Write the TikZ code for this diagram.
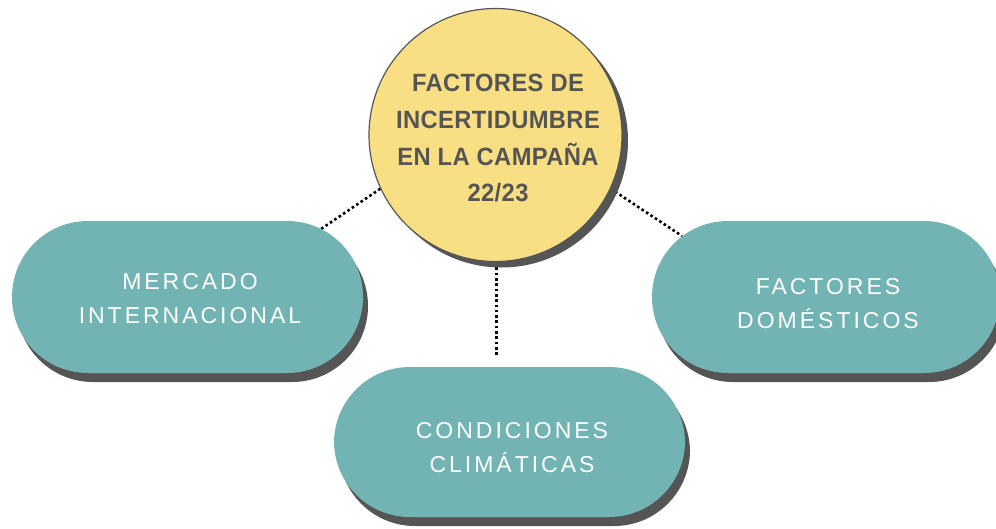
\documentclass[tikz,border=0pt]{standalone}
\usepackage{fontspec}
\setmainfont{Liberation Sans}
\newfontfamily\pillfont[LetterSpace=13]{Liberation Sans}
\newfontfamily\hubfont[LetterSpace=1.5,FakeStretch=0.95]{Liberation Sans}
\usetikzlibrary{shadows,backgrounds}
\definecolor{tealfill}{HTML}{72B4B3}
\definecolor{yellowfill}{HTML}{F9DF84}
\definecolor{shgray}{HTML}{555555}
\tikzset{
  pill/.style={rectangle, rounded corners=75.9pt, fill=tealfill, draw=none,
    minimum height=152pt, inner sep=0pt,
    drop shadow={shadow xshift=5pt, shadow yshift=-9pt, opacity=1, fill=shgray}},
  hub/.style={circle, fill=yellowfill, draw=shgray, line width=1.2pt,
    minimum size=253pt, inner sep=0pt,
    drop shadow={shadow xshift=6pt, shadow yshift=-6pt, opacity=1, fill=shgray}},
  hubtext/.style={align=center, text=shgray, inner sep=0pt,
    font=\hubfont\bfseries\fontsize{25}{36.7}\selectfont},
  pilltext/.style={align=center, text=white, inner sep=0pt,
    font=\pillfont\fontsize{23}{34}\selectfont},
  dotline/.style={draw=black, line width=2.6pt, dash pattern=on 2.6pt off 2.7pt}
}
\begin{document}
\begin{tikzpicture}[x=1pt,y=-1pt]
\useasboundingbox (0,0) rectangle (996,528);
% nodes
\node[hub] (hub) at (495.5,135) {};
\node[pill, minimum width=351pt] (left) at (187.5,297) {};
\node[pill, minimum width=348pt] (right) at (826,297) {};
\node[pill, minimum width=351pt, minimum height=150pt] (bottom) at (509.5,442) {};
% texts
\node[hubtext] (hubt) at (498,138.3) {FACTORES DE\\INCERTIDUMBRE\\EN LA CAMPAÑA\\22/23};
\node[pilltext] (leftt) at (190,298.3) {MERCADO\\INTERNACIONAL};
\node[pilltext] (rightt) at (828,303.5) {FACTORES\\DOMÉSTICOS};
\node[pilltext] (bottomt) at (512,448) {CONDICIONES\\CLIMÁTICAS};
% connector ends
\coordinate (lend) at (321,229);
\coordinate (rend) at (682,236);
\coordinate (bend) at (496.5,357);
\begin{scope}[on background layer]
  \draw[dotline] (hub.205) -- (lend);
  \draw[dotline] (hub.-25) -- (rend);
  \draw[dotline] (hub.south -| bend) -- (bend);
\end{scope}
\end{tikzpicture}
\end{document}
